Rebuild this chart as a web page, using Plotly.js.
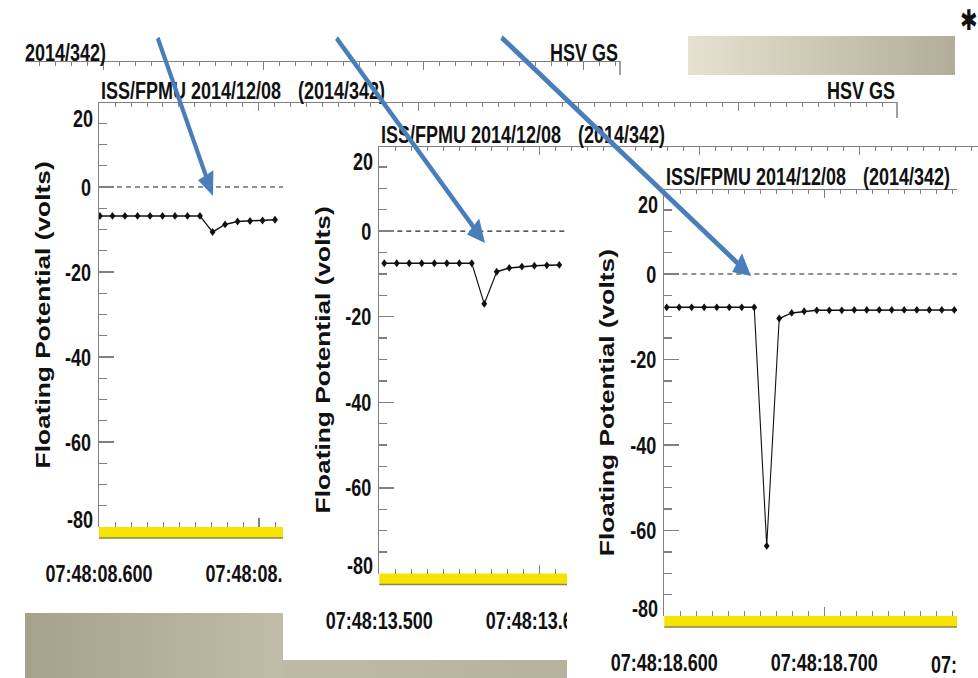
<!DOCTYPE html>
<html>
<head>
<meta charset="utf-8">
<script src="https://cdn.plot.ly/plotly-3.0.1.min.js"></script>
<style>
  html, body { margin: 0; padding: 0; background: #fff; width: 978px; height: 678px; }
  /* the figure is laid out 502px tall and stretched to 678px, giving tall, narrow lettering */
  #chart { width: 978px; height: 502px; transform: scaleY(1.350598); transform-origin: 0 0; }
</style>
</head>
<body>
<div id="chart"></div>
<script>
// ISS/FPMU floating potential, 2014/12/08 (day 342), three snapshots of the same probe
const panelTitle = 'ISS/FPMU 2014/12/08';
const panelDay = '(2014/342)';
const stationLabel = 'HSV GS';
const yTitle = 'Floating Potential (volts)';

// second of the day each snapshot starts in (UTC 07:48:ss)
const panelSeconds = [8, 13, 18];
// time of the left plot edge, ms into that second
const axisStartMs = [600, 500, 600];

// sample times (ms into the second) and floating potential (V)
const p1Ms = [600.6, 608.4, 616.2, 624.1, 631.9, 639.7, 647.5, 655.3, 663.1, 671.0, 678.8, 686.6, 694.4, 702.2, 710.0];
const p1Volts = [-6.8, -6.8, -6.8, -6.8, -6.8, -6.8, -6.8, -6.8, -6.8, -10.6, -8.8, -8.1, -8.0, -7.9, -7.7];

const p2Ms = [503.1, 510.9, 518.7, 526.5, 534.4, 542.2, 550.0, 557.8, 565.6, 573.4, 581.2, 589.1, 596.9, 604.7, 612.5];
const p2Volts = [-7.5, -7.5, -7.5, -7.5, -7.5, -7.5, -7.5, -7.5, -17.0, -9.5, -8.6, -8.3, -8.1, -8.0, -7.9];

const p3Ms = [601.5, 609.3, 617.1, 624.9, 632.8, 640.6, 648.4, 656.2, 664.0, 671.8, 679.6, 687.4,
              695.3, 703.1, 710.9, 718.7, 726.5, 734.3, 742.1, 749.9, 757.8, 765.6, 773.4, 781.2];
const p3Volts = [-7.8, -7.8, -7.8, -7.8, -7.8, -7.8, -7.8, -7.8, -63.6, -10.4, -9.1, -8.7,
                 -8.5, -8.5, -8.5, -8.4, -8.4, -8.4, -8.4, -8.4, -8.4, -8.4, -8.4, -8.4];

const yTickVals = [0, -20, -40, -60];
const yTickText = ['0', '-20', '-40', '-60'];
const yEdgeLabels = ['20', '-80'];

// ---------------------------------------------------------------------------
const W = 978, H = 678;          // final on-screen size
const HP = 502;                  // laid-out height before the vertical stretch
const SY = H / HP;               // vertical stretch factor
const PXS = 1.6;                 // pixels per millisecond on every time axis
const fx = v => v / W;
const fy = v => 1 - v / H;
const vpx = v => v / SY;         // vertical pixel length before stretching
const FONT = '"Liberation Sans", Arial, Helvetica, sans-serif';
const GRAY = '#808080';
const INK = '#111111';
const BLUE = '#4a7ebb';
const labelFont = { family: FONT, size: 18, color: INK, weight: 'bold' };

// screen placement of each snapshot
const frames = [
  { left: 99,    visRight: 283, top: 102,   bottom: 527,   lineRight: 897, yTitleX: 43 },
  { left: 379.3, visRight: 567, top: 145.5, bottom: 573.5, lineRight: 978, yTitleX: 323 },
  { left: 664.3, visRight: 957, top: 188.5, bottom: 616,   lineRight: 957, yTitleX: 607 }
];
const series = [[p1Ms, p1Volts], [p2Ms, p2Volts], [p3Ms, p3Volts]];

function secondStart(s) { return Date.UTC(2014, 11, 8, 7, 48, s); }

const data = [];
const layout = {
  width: W, height: HP,
  margin: { l: 0, r: 0, t: 0, b: 0 },
  paper_bgcolor: '#ffffff',
  plot_bgcolor: 'rgba(0,0,0,0)',
  showlegend: false,
  font: { family: FONT, color: INK },
  shapes: [], annotations: [], images: []
};

function gradientImage(c1, c2) {
  const svg = '<svg xmlns="http://www.w3.org/2000/svg" width="100" height="100" viewBox="0 0 100 100" preserveAspectRatio="none">' +
    '<defs><linearGradient id="g" x1="0" x2="1" y1="0" y2="0">' +
    '<stop offset="0" stop-color="' + c1 + '"/><stop offset="1" stop-color="' + c2 + '"/>' +
    '</linearGradient></defs><rect width="100" height="100" fill="url(#g)"/></svg>';
  return 'data:image/svg+xml;utf8,' + encodeURIComponent(svg);
}
function band(x0, y0, x1, y1, c1, c2) {
  layout.images.push({
    source: gradientImage(c1, c2), xref: 'paper', yref: 'paper',
    x: fx(x0), y: fy(y0), sizex: fx(x1) - fx(x0), sizey: (y1 - y0) / H,
    xanchor: 'left', yanchor: 'top', sizing: 'stretch', layer: 'below'
  });
}
// slide backdrop strips
band(25, 613, 283, 678, '#a5a18b', '#c0bca8');
band(283, 660, 567, 678, '#bebaa6', '#b6b29d');
band(688, 36, 955, 75, '#e6e2cf', '#b1ad99');

function text(t, x, y, opts) {
  layout.annotations.push(Object.assign({
    text: t, xref: 'paper', yref: 'paper', x: fx(x), y: fy(y),
    xanchor: 'left', yanchor: 'middle', showarrow: false, font: labelFont
  }, opts || {}));
}
function segment(x0, y0, x1, y1, color, width, layer) {
  layout.shapes.push({
    type: 'line', xref: 'paper', yref: 'paper',
    x0: fx(x0), y0: fy(y0), x1: fx(x1), y1: fy(y1),
    line: { color: color, width: width }, layer: layer || 'below'
  });
}
function box(x0, y0, x1, y1, fill, layer) {
  layout.shapes.push({
    type: 'rect', xref: 'paper', yref: 'paper',
    x0: fx(x0), y0: fy(y0), x1: fx(x1), y1: fy(y1),
    fillcolor: fill, line: { width: 0 }, layer: layer || 'below'
  });
}

// header row of the snapshot sitting behind the first one
layout.xaxis7 = {
  type: 'linear', domain: [fx(25), fx(620)], anchor: 'free', position: fy(61), side: 'top',
  range: [0.15125, 0.15125 + 595 / 1600], showline: true, linecolor: GRAY, linewidth: 1.1,
  ticks: 'inside', ticklen: vpx(8), tickwidth: 1, tickcolor: GRAY, dtick: 0.1, tick0: 0,
  showticklabels: false, showgrid: false, zeroline: false,
  minor: { ticks: 'inside', ticklen: vpx(4), dtick: 0.01, tick0: 0, tickcolor: GRAY, tickwidth: 1 }
};
data.push({ type: 'scatter', x: [], y: [], xaxis: 'x7', yaxis: 'y', hoverinfo: 'skip' });
segment(620, 61, 620, 75, GRAY, 1.5);
text('2014/342)', 23, 52);
text(stationLabel, 620, 53, { xanchor: 'right' });

frames.forEach((f, k) => {
  const s = k === 0 ? '' : String(k + 1);
  const t0 = secondStart(panelSeconds[k]) + axisStartMs[k];
  const [ms, volts] = series[k];

  // visible part of the plot
  layout['xaxis' + s] = {
    type: 'date', domain: [fx(f.left), fx(f.visRight)], anchor: 'y' + s,
    range: [t0 - 0.05, t0 + (f.visRight - f.left) / PXS],
    showline: false, showgrid: false, zeroline: false,
    ticks: 'inside', ticklen: vpx(9), tickwidth: 1.2, tickcolor: GRAY,
    tick0: t0, dtick: 100, tickformat: '%H:%M:%S.%L', tickfont: labelFont,
    ticklabelstandoff: 22,
    minor: { ticks: 'inside', ticklen: vpx(5), dtick: 10, tickcolor: GRAY, tickwidth: 1 }
  };
  layout['yaxis' + s] = {
    domain: [fy(f.bottom), fy(f.top)], anchor: 'x' + s, range: [-80, 20],
    showline: true, linecolor: GRAY, linewidth: 1.5, showgrid: false, zeroline: false,
    ticks: 'inside', ticklen: 15, tickwidth: 1, tickcolor: GRAY,
    tickmode: 'array', tickvals: yTickVals, ticktext: yTickText, tickfont: labelFont,
    ticklabelstandoff: 3,
    minor: { tickmode: 'linear', tick0: 0, dtick: 5, ticks: 'inside', ticklen: 8, tickcolor: GRAY, tickwidth: 1 }
  };

  // full-width top frame with its time ticks
  const xi = 4 + k;
  layout['xaxis' + xi] = {
    type: 'date', domain: [fx(f.left), Math.min(1, fx(f.lineRight))], anchor: 'free',
    position: fy(f.top), side: 'top',
    range: [t0, t0 + (f.lineRight - f.left) / PXS],
    showline: true, linecolor: GRAY, linewidth: 1.1, showgrid: false, zeroline: false,
    ticks: 'inside', ticklen: vpx(8), tickwidth: 1, tickcolor: GRAY, tick0: t0, dtick: 100,
    showticklabels: false,
    minor: { ticks: 'inside', ticklen: vpx(4), dtick: 10, tickcolor: GRAY, tickwidth: 1 }
  };
  data.push({ type: 'scatter', x: [], y: [], xaxis: 'x' + xi, yaxis: 'y' + s, hoverinfo: 'skip' });

  // potential trace
  data.push({
    type: 'scatter', mode: 'lines+markers', xaxis: 'x' + s, yaxis: 'y' + s,
    x: ms.map(m => secondStart(panelSeconds[k]) + m), y: volts,
    line: { color: INK, width: 1.1 },
    marker: { symbol: 'diamond', size: 4.5, color: INK },
    cliponaxis: true, hoverinfo: 'x+y'
  });

  // 0 V reference
  layout.shapes.push({
    type: 'line', xref: 'x' + s + ' domain', x0: 0, x1: 1, yref: 'y' + s, y0: 0, y1: 0,
    line: { color: '#222222', width: 0.9, dash: '5px,4px' }, layer: 'below'
  });

  // status strip under the time axis
  box(f.left, f.bottom, f.visRight, f.bottom + 11, '#f7e300');
  segment(f.left, f.bottom + 11, f.visRight, f.bottom + 11, '#8c8650', 1.1);

  // titles
  text(panelTitle, f.left, f.top - 11);
  text(panelDay, f.left + 197, f.top - 11);
  text(yTitle, f.yTitleX, (f.top + f.bottom) / 2, {
    xanchor: 'center', textangle: -90,
    font: { family: FONT, size: 19.5, color: INK, weight: 'bold' }
  });
  text(yEdgeLabels[0], f.left - 4, f.top + 17, { xanchor: 'right' });
  text(yEdgeLabels[1], f.left - 4, f.bottom - 7.5, { xanchor: 'right' });
});

// station tag and frame corner of the first snapshot
text(stationLabel, 897, 90.5, { xanchor: 'right' });
segment(897, 102, 897, 118, GRAY, 1.5);

// later snapshots lie over the right end of the earlier ones
box(283, 548, 334, 600, '#ffffff', 'above');
box(567, 598, 612, 646, '#ffffff', 'above');
text('07:', 929, 665);

// corner mark
text('\u2731', 969, 20, { xanchor: 'center', font: { family: '"DejaVu Sans", sans-serif', size: 21, color: INK } });

// arrows pointing at the dips
const arrowTips = [[213, 196], [485, 243], [751, 276]];
const arrowTails = [[157, 36], [335, 36], [500, 36]];
arrowTips.forEach((tip, i) => {
  layout.annotations.push({
    text: '', xref: 'paper', yref: 'paper', x: fx(tip[0]), y: fy(tip[1]),
    ax: arrowTails[i][0] - tip[0], ay: vpx(arrowTails[i][1] - tip[1]),
    showarrow: true, arrowhead: 2, arrowsize: 0.85, arrowwidth: 4, arrowcolor: BLUE,
    standoff: 0, startstandoff: 0
  });
});

Plotly.newPlot('chart', data, layout, { staticPlot: true, displayModeBar: false });
</script>
</body>
</html>
